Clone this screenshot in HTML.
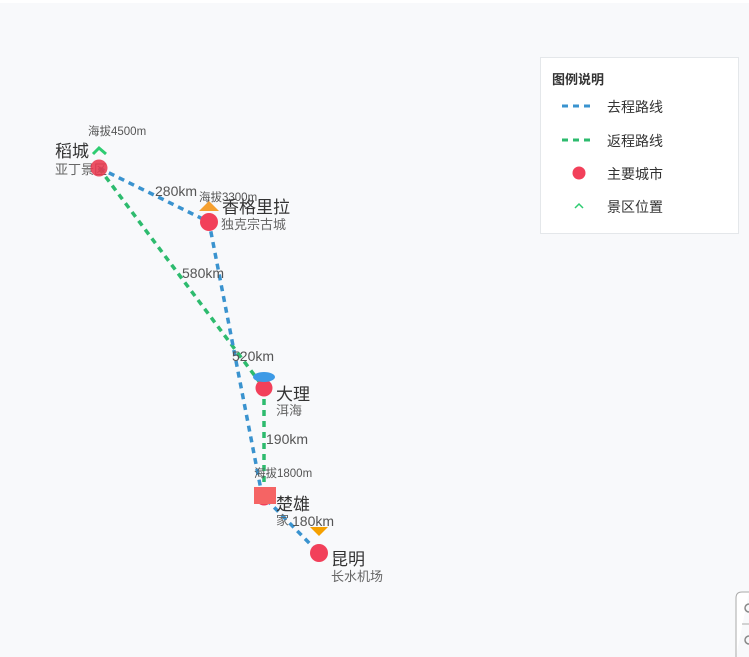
<!DOCTYPE html>
<html><head><meta charset="utf-8"><style>
html,body{margin:0;padding:0;background:#fff;}
svg{display:block;}
text{font-family:"Liberation Sans","Noto Sans CJK SC",sans-serif;}
</style></head><body>
<svg width="749" height="657" viewBox="0 0 749 657" xmlns="http://www.w3.org/2000/svg">
<rect x="0" y="3" width="749" height="654" fill="#f8f9fb"/>
<g fill="none" stroke-width="3.5" stroke-dasharray="6,5">
<polyline points="99,168 264,388 264,497" stroke="#2dbb6e"/>
<polyline points="99,168 209,222 262,495 319,553" stroke="#3a93cf"/>
</g>
<g font-size="14" fill="#555">
<text x="155" y="196">280km</text>
<text x="182" y="278">580km</text>
<text x="232" y="361">520km</text>
<text x="266" y="444">190km</text>
<text x="292" y="526">180km</text>
</g>
<g font-size="11.5" fill="#555">
<text x="88" y="135">海拔4500m</text>
<text x="199" y="201">海拔3300m</text>
<text x="254" y="477">海拔1800m</text>
</g>
<g fill="#333" font-size="17">
<text x="55" y="157">稻城</text>
<text x="222" y="213">香格里拉</text>
<text x="276" y="400">大理</text>
<text x="276" y="510">楚雄</text>
<text x="331" y="565">昆明</text>
</g>
<g fill="#666" font-size="13">
<text x="55" y="174">亚丁景区</text>
<text x="221" y="229">独克宗古城</text>
<text x="276" y="415">洱海</text>
<text x="276" y="525">家</text>
<text x="331" y="581">长水机场</text>
</g>
<polyline points="93,154 99,148 106,154" fill="none" stroke="#2ecc71" stroke-width="3"/>
<circle cx="99" cy="168" r="8.5" fill="#e8394f" fill-opacity="0.88"/>
<polygon points="209,201 219,211 199,211" fill="#f5a030"/>
<circle cx="209" cy="222" r="9" fill="#f2405a"/>
<circle cx="264" cy="388" r="8.5" fill="#f2405a"/>
<ellipse cx="264" cy="377" rx="11" ry="5" fill="#3d9ae6"/>
<circle cx="264" cy="497" r="8.5" fill="#f2405a"/>
<rect x="254" y="487" width="22" height="17" fill="#f56464"/>
<polygon points="310,527 328,527 319,536" fill="#f5a000"/>
<circle cx="319" cy="553" r="9" fill="#f2405a"/>
<rect x="540.5" y="57.5" width="198" height="176" fill="#fff" stroke="#e4e7ea"/>
<text x="552" y="84" font-size="13" font-weight="bold" fill="#333">图例说明</text>
<line x1="562" y1="106" x2="590" y2="106" stroke="#3a93cf" stroke-width="3" stroke-dasharray="6,5"/>
<line x1="562" y1="140" x2="590" y2="140" stroke="#2dbb6e" stroke-width="3" stroke-dasharray="6,5"/>
<circle cx="579" cy="173" r="6.5" fill="#f2405a"/>
<polyline points="575,208 579,204 583,208" fill="none" stroke="#2ecc71" stroke-width="1.5"/>
<g font-size="14" fill="#333">
<text x="607" y="112">去程路线</text>
<text x="607" y="146">返程路线</text>
<text x="607" y="179">主要城市</text>
<text x="607" y="212">景区位置</text>
</g>
<path d="M749,592 H742 Q736,592 736,598 V657" fill="#fff" stroke="#aaa"/>
<line x1="742" y1="624" x2="749" y2="624" stroke="#aaa"/>
<circle cx="749" cy="608" r="4" fill="none" stroke="#888" stroke-width="1.5"/>
<circle cx="749" cy="640" r="4" fill="none" stroke="#888" stroke-width="1.5"/>
</svg>
</body></html>
